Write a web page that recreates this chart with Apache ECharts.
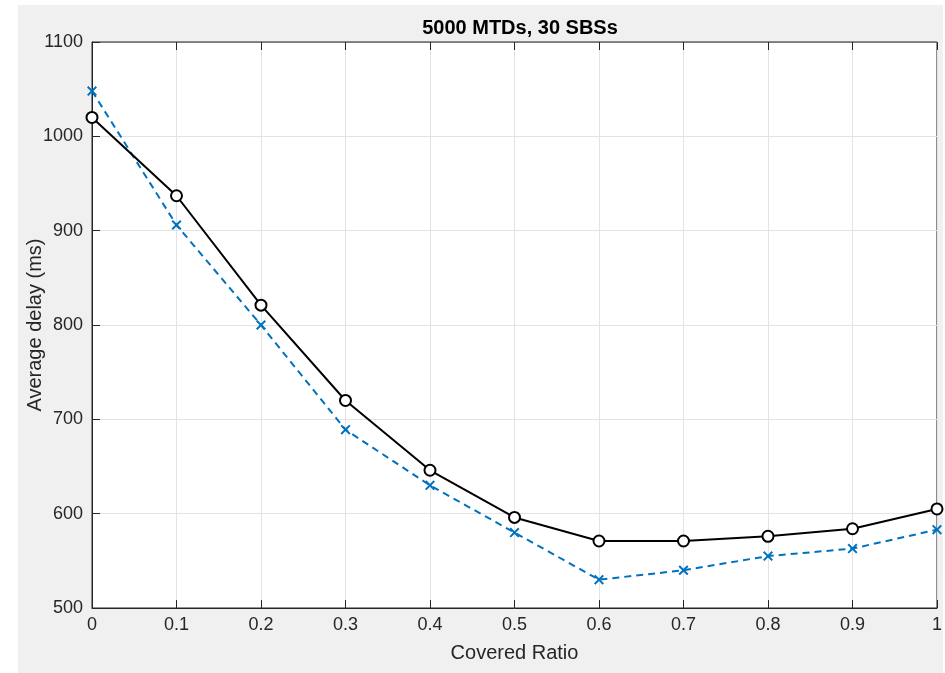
<!DOCTYPE html>
<html><head><meta charset="utf-8">
<script src="https://cdn.jsdelivr.net/npm/echarts@6/dist/echarts.min.js"></script>
<style>html,body{margin:0;padding:0;background:#fff}#c{width:945px;height:673px}</style>
</head><body><div id="c"></div>
<script>
const categories = [0, 0.1, 0.2, 0.3, 0.4, 0.5, 0.6, 0.7, 0.8, 0.9, 1];
const seriesBlack = [1020, 937, 821, 720, 646, 596, 571, 571, 576, 584, 605];
const seriesBlue = [1048, 906, 800, 689, 630, 580, 530, 540, 555, 563, 583];
const yTicks = [500, 600, 700, 800, 900, 1000, 1100];

const font = 'Liberation Sans, Arial, Helvetica, sans-serif';
const axisColor = '#262626';
const chart = echarts.init(document.getElementById('c'));
const toPairs = arr => arr.map((v, i) => [categories[i], v]);
const xMark = 'path://M1.4,0 L5,3.6 L8.6,0 L10,1.4 L6.4,5 L10,8.6 L8.6,10 L5,6.4 L1.4,10 L0,8.6 L3.6,5 L0,1.4 Z';
const tick = {show: true, inside: true, length: 8, lineStyle: {color: axisColor, width: 1}};
chart.setOption({
  backgroundColor: '#fff',
  animation: false,
  graphic: [{type: 'rect', left: 18, top: 5, z: -100, silent: true,
    shape: {width: 925, height: 668}, style: {fill: '#f0f0f0'}}],
  title: {text: '5000 MTDs, 30 SBSs', left: 515, top: 13, textAlign: 'center',
    textStyle: {fontFamily: font, fontWeight: 'bold', fontSize: 20, color: '#000'}},
  grid: {left: 92, right: 6, top: 42, bottom: 65, show: true, backgroundColor: '#fff', borderColor: axisColor, borderWidth: 1},
  xAxis: [{
    type: 'value', min: 0, max: 1, interval: 0.1,
    name: 'Covered Ratio', nameLocation: 'middle', nameGap: 35, nameMoveOverlap: false,
    nameTextStyle: {fontFamily: font, fontSize: 20, color: axisColor},
    axisLine: {show: true, onZero: false, lineStyle: {color: axisColor}},
    axisTick: tick,
    axisLabel: {fontFamily: font, fontSize: 18, color: axisColor, margin: 8,
      formatter: v => String(Math.round(v * 10) / 10)},
    splitLine: {show: true, lineStyle: {color: '#e3e3e3'}}
  }, {
    type: 'value', position: 'top', min: 0, max: 1, interval: 0.1,
    axisLine: {show: true, onZero: false, lineStyle: {color: '#7a7a7a'}},
    axisTick: tick,
    axisLabel: {show: false}, splitLine: {show: false}
  }],
  yAxis: [{
    type: 'value', min: yTicks[0], max: yTicks[yTicks.length - 1], interval: 100,
    name: 'Average delay (ms)', nameLocation: 'middle', nameGap: 47, nameMoveOverlap: false,
    nameTextStyle: {fontFamily: font, fontSize: 20, color: axisColor},
    axisLine: {show: true, onZero: false, lineStyle: {color: axisColor}},
    axisTick: tick,
    axisLabel: {fontFamily: font, fontSize: 18, color: axisColor, margin: 9,
      formatter: v => String(v)},
    splitLine: {show: true, lineStyle: {color: '#e3e3e3'}}
  }],
  series: [{
    type: 'line', data: toPairs(seriesBlue), z: 3,
    symbol: xMark, symbolSize: 10, showSymbol: true,
    lineStyle: {color: '#0072BD', width: 2, type: [7, 5]},
    itemStyle: {color: '#0072BD'}
  }, {
    type: 'line', data: toPairs(seriesBlack), z: 4,
    symbol: 'emptyCircle', symbolSize: 11, showSymbol: true,
    lineStyle: {color: '#000', width: 2},
    itemStyle: {color: '#000', borderWidth: 2, borderColor: '#000'}
  }]
});
</script></body></html>
